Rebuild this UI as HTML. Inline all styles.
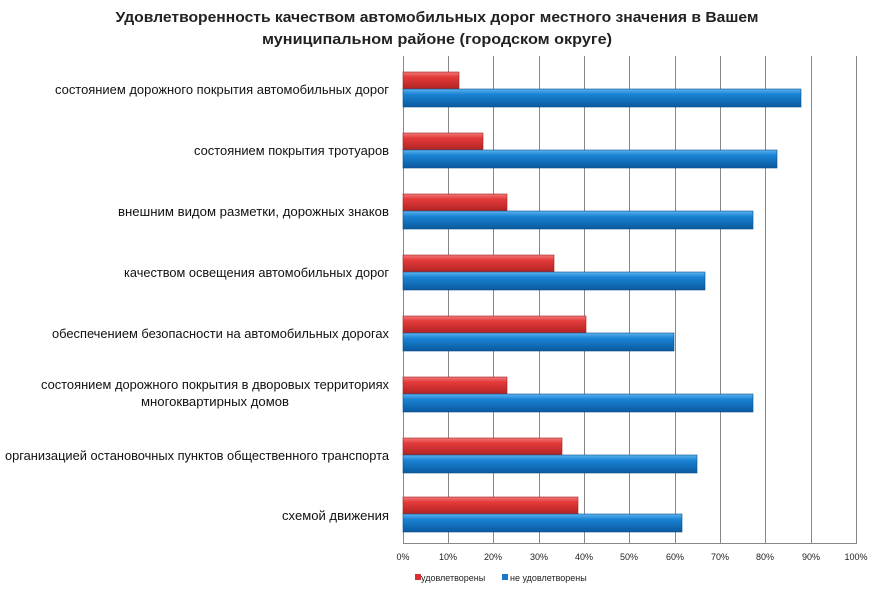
<!DOCTYPE html>
<html><head><meta charset="utf-8"><style>body{margin:0;background:#fff}svg{display:block}</style></head>
<body>
<svg width="874" height="590" xmlns="http://www.w3.org/2000/svg" font-family="Liberation Sans, sans-serif">
<defs>
<linearGradient id="r" x1="0" y1="0" x2="0" y2="1"><stop offset="0" stop-color="#f27a7a"/><stop offset="0.3" stop-color="#e43a3a"/><stop offset="1" stop-color="#b22424"/></linearGradient>
<linearGradient id="b" x1="0" y1="0" x2="0" y2="1"><stop offset="0" stop-color="#5cb4ef"/><stop offset="0.3" stop-color="#1a82d4"/><stop offset="1" stop-color="#0a5a9e"/></linearGradient>
</defs>
<text x="437" y="22" text-anchor="middle" font-size="15" font-weight="bold" fill="#222" textLength="643" lengthAdjust="spacingAndGlyphs">Удовлетворенность качеством автомобильных дорог местного значения в Вашем</text>
<text x="437" y="44" text-anchor="middle" font-size="15" font-weight="bold" fill="#222" textLength="350" lengthAdjust="spacingAndGlyphs">муниципальном районе (городском округе)</text>
<g stroke="#888" stroke-width="1">
<line x1="403.5" y1="56" x2="403.5" y2="543"/><line x1="448.5" y1="56" x2="448.5" y2="543"/><line x1="493.5" y1="56" x2="493.5" y2="543"/><line x1="539.5" y1="56" x2="539.5" y2="543"/><line x1="584.5" y1="56" x2="584.5" y2="543"/><line x1="629.5" y1="56" x2="629.5" y2="543"/><line x1="675.5" y1="56" x2="675.5" y2="543"/><line x1="720.5" y1="56" x2="720.5" y2="543"/><line x1="765.5" y1="56" x2="765.5" y2="543"/><line x1="811.5" y1="56" x2="811.5" y2="543"/><line x1="856.5" y1="56" x2="856.5" y2="543"/>
<line x1="403" y1="543.5" x2="857" y2="543.5"/>
</g>
<g stroke-width="0.6">
<rect x="403" y="72" width="56" height="17" fill="url(#r)" stroke="#a02020"/><rect x="403" y="89" width="398" height="18" fill="url(#b)" stroke="#0a4f8a"/>
<rect x="403" y="133" width="80" height="17" fill="url(#r)" stroke="#a02020"/><rect x="403" y="150" width="374" height="18" fill="url(#b)" stroke="#0a4f8a"/>
<rect x="403" y="194" width="104" height="17" fill="url(#r)" stroke="#a02020"/><rect x="403" y="211" width="350" height="18" fill="url(#b)" stroke="#0a4f8a"/>
<rect x="403" y="255" width="151" height="17" fill="url(#r)" stroke="#a02020"/><rect x="403" y="272" width="302" height="18" fill="url(#b)" stroke="#0a4f8a"/>
<rect x="403" y="316" width="183" height="17" fill="url(#r)" stroke="#a02020"/><rect x="403" y="333" width="271" height="18" fill="url(#b)" stroke="#0a4f8a"/>
<rect x="403" y="377" width="104" height="17" fill="url(#r)" stroke="#a02020"/><rect x="403" y="394" width="350" height="18" fill="url(#b)" stroke="#0a4f8a"/>
<rect x="403" y="438" width="159" height="17" fill="url(#r)" stroke="#a02020"/><rect x="403" y="455" width="294" height="18" fill="url(#b)" stroke="#0a4f8a"/>
<rect x="403" y="497" width="175" height="17" fill="url(#r)" stroke="#a02020"/><rect x="403" y="514" width="279" height="18" fill="url(#b)" stroke="#0a4f8a"/>
</g>
<g font-size="13" fill="#111" text-anchor="end">
<text x="389" y="94" textLength="334" lengthAdjust="spacingAndGlyphs">состоянием дорожного покрытия автомобильных дорог</text>
<text x="389" y="155" textLength="195" lengthAdjust="spacingAndGlyphs">состоянием покрытия тротуаров</text>
<text x="389" y="216" textLength="271" lengthAdjust="spacingAndGlyphs">внешним видом разметки, дорожных знаков</text>
<text x="389" y="277" textLength="265" lengthAdjust="spacingAndGlyphs">качеством освещения автомобильных дорог</text>
<text x="389" y="338" textLength="337" lengthAdjust="spacingAndGlyphs">обеспечением безопасности на автомобильных дорогах</text>
<text x="389" y="389" textLength="348" lengthAdjust="spacingAndGlyphs">состоянием дорожного покрытия в дворовых территориях</text>
<text x="215" y="406" text-anchor="middle" textLength="148" lengthAdjust="spacingAndGlyphs">многоквартирных домов</text>
<text x="389" y="460" textLength="384" lengthAdjust="spacingAndGlyphs">организацией остановочных пунктов общественного транспорта</text>
<text x="389" y="520" textLength="107" lengthAdjust="spacingAndGlyphs">схемой движения</text>
</g>
<g font-size="9" fill="#222" text-anchor="middle">
<text x="403" y="560">0%</text><text x="448" y="560">10%</text><text x="493" y="560">20%</text><text x="539" y="560">30%</text><text x="584" y="560">40%</text><text x="629" y="560">50%</text><text x="675" y="560">60%</text><text x="720" y="560">70%</text><text x="765" y="560">80%</text><text x="811" y="560">90%</text><text x="856" y="560">100%</text>
</g>
<rect x="415" y="574" width="6" height="6" fill="#d83030"/>
<text x="421" y="581" font-size="9" fill="#222">удовлетворены</text>
<rect x="502" y="574" width="6" height="6" fill="#1a78c8"/>
<text x="510" y="581" font-size="9" fill="#222">не удовлетворены</text>
</svg>
</body></html>
